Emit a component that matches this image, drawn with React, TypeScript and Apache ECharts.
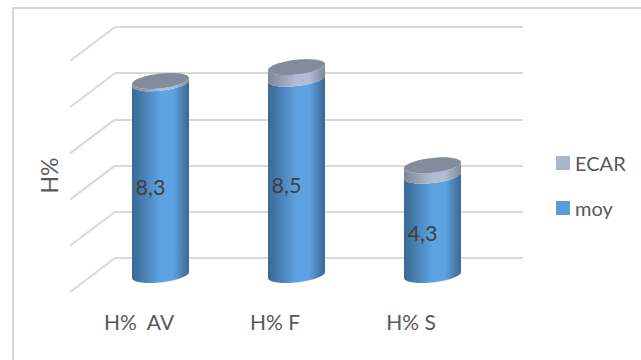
import React, { useEffect, useRef } from "react";
import * as echarts from "echarts";

const categories = ["H%  AV", "H% F", "H% S"];
const moy = [8.3, 8.5, 4.3];
const ecar = [0.1, 0.5, 0.45];
const depthLevels = [0, 2, 4, 6, 8, 10];

const FONT = "Lato";
const TEXT = "#595959";
const GRID_LINE = "#d9d9d9";

// Perspective of the floor: the front of the box sits left of and below the back wall.
const DEPTH_X = -45;
const DEPTH_Y = 34;
const HALF_WIDTH = 28.5;
const RADIUS_Y = 7.4;
const TILT = 3 / 28.5;

const ellipsePoint = (cx: number, cy: number, t: number) => {
  const dx = HALF_WIDTH * Math.cos(t);
  return [cx + dx, cy + RADIUS_Y * Math.sin(t) - TILT * dx];
};

// Side wall of a cylinder: lower front arc, then upper front arc going back.
const wallPoints = (cx: number, yBottom: number, yTop: number) => {
  const pts: number[][] = [];
  for (let i = 0; i <= 40; i++) pts.push(ellipsePoint(cx, yBottom, (Math.PI * i) / 40));
  for (let i = 40; i >= 0; i--) pts.push(ellipsePoint(cx, yTop, (Math.PI * i) / 40));
  return pts;
};

const capPoints = (cx: number, cy: number) => {
  const pts: number[][] = [];
  for (let i = 0; i < 72; i++) pts.push(ellipsePoint(cx, cy, (2 * Math.PI * i) / 72));
  return pts;
};

const shade = (edge: string, mid: string) => ({
  type: "linear" as const,
  x: 0,
  y: 0,
  x2: 1,
  y2: 0,
  colorStops: [
    { offset: 0, color: edge },
    { offset: 0.5, color: mid },
    { offset: 0.72, color: mid },
    { offset: 1, color: edge },
  ],
});

const cylinderCentre = (api: any, cat: number, value: number) => {
  const [x, y] = api.coord([cat, value]);
  return [x + DEPTH_X / 2, y + DEPTH_Y / 2];
};

const renderMoy = (_: any, api: any) => {
  const cat = api.value(0);
  const value = api.value(1);
  const [cx, yTop] = cylinderCentre(api, cat, value);
  const [, yBottom] = cylinderCentre(api, cat, 0);
  return {
    type: "group",
    children: [
      {
        type: "polygon",
        shape: { points: wallPoints(cx, yBottom, yTop) },
        style: { fill: shade("#3a6892", "#5ea2e2") },
      },
      {
        type: "text",
        z2: 10,
        style: {
          text: String(value).replace(".", ","),
          x: cx - 10,
          y: (yBottom + yTop) / 2 + 8,
          align: "center",
          verticalAlign: "middle",
          fill: "#404040",
          font: `21.5px ${FONT}`,
        },
      },
    ],
  };
};

const renderEcar = (_: any, api: any) => {
  const cat = api.value(0);
  const base = moy[cat];
  const [cx, yTop] = cylinderCentre(api, cat, base + api.value(1));
  const [, yBottom] = cylinderCentre(api, cat, base);
  return {
    type: "group",
    children: [
      {
        type: "polygon",
        shape: { points: wallPoints(cx, yBottom, yTop) },
        style: { fill: shade("#7d8999", "#b0bcd2") },
      },
      {
        type: "polygon",
        shape: { points: capPoints(cx, yTop) },
        style: { fill: "#828c9c" },
      },
    ],
  };
};

// Floor and side-wall edges running from the back wall towards the viewer.
const renderDepthLine = (params: any, api: any) => {
  const [, y] = api.coord([0, api.value(0)]);
  const left = params.coordSys.x;
  return {
    type: "line",
    shape: { x1: left, y1: y, x2: left + DEPTH_X, y2: y + DEPTH_Y },
    style: { stroke: GRID_LINE, lineWidth: 2 },
    silent: true,
  };
};

export default function App() {
  const ref = useRef<HTMLDivElement>(null);

  useEffect(() => {
    document.body.style.margin = "0";
    const chart = echarts.init(ref.current!, undefined, { renderer: "svg" });
    chart.setOption({
      animation: false,
      backgroundColor: "#ffffff",
      textStyle: { fontFamily: FONT },
      graphic: [
        {
          type: "polyline",
          silent: true,
          shape: { points: [[13, 370], [13, 8], [651, 8]] },
          style: { stroke: GRID_LINE, lineWidth: 2, fill: "none" },
        },
      ],
      grid: { left: 115, right: 118, top: 27, bottom: 102 },
      xAxis: {
        type: "category",
        data: categories,
        axisLine: { show: false },
        axisTick: { show: false },
        axisLabel: {
          color: TEXT,
          fontFamily: FONT,
          fontSize: 21,
          margin: 53,
          padding: [0, 88, 0, 0],
        },
      },
      yAxis: {
        type: "value",
        min: 0,
        max: 10,
        interval: 2,
        name: "H%",
        nameLocation: "middle",
        nameGap: 55,
        nameTextStyle: { color: TEXT, fontFamily: FONT, fontSize: 23, padding: [0, 66, 0, 0] },
        axisLine: { show: false },
        axisTick: { show: false },
        axisLabel: { show: false },
        splitLine: { lineStyle: { color: GRID_LINE, width: 2 } },
      },
      legend: {
        orient: "vertical",
        left: 551,
        top: 148,
        itemWidth: 14,
        itemHeight: 14,
        itemGap: 25,
        icon: "rect",
        data: ["ECAR", "moy"],
        textStyle: { color: TEXT, fontFamily: FONT, fontSize: 20 },
      },
      series: [
        {
          type: "custom",
          name: "depth",
          coordinateSystem: "cartesian2d",
          renderItem: renderDepthLine,
          data: depthLevels.map((v) => [v]),
          encode: { y: 0 },
          silent: true,
          z: 1,
        },
        {
          type: "custom",
          name: "moy",
          coordinateSystem: "cartesian2d",
          renderItem: renderMoy,
          itemStyle: { color: "#5b9bd5" },
          data: moy.map((v, i) => [i, v]),
          encode: { x: 0, y: 1 },
          z: 3,
        },
        {
          type: "custom",
          name: "ECAR",
          coordinateSystem: "cartesian2d",
          renderItem: renderEcar,
          itemStyle: { color: "#a9b5cb" },
          data: ecar.map((v, i) => [i, v]),
          encode: { x: 0, y: 1 },
          z: 4,
        },
      ],
    });
    return () => chart.dispose();
  }, []);

  return <div ref={ref} style={{ width: 641, height: 360 }} />;
}
